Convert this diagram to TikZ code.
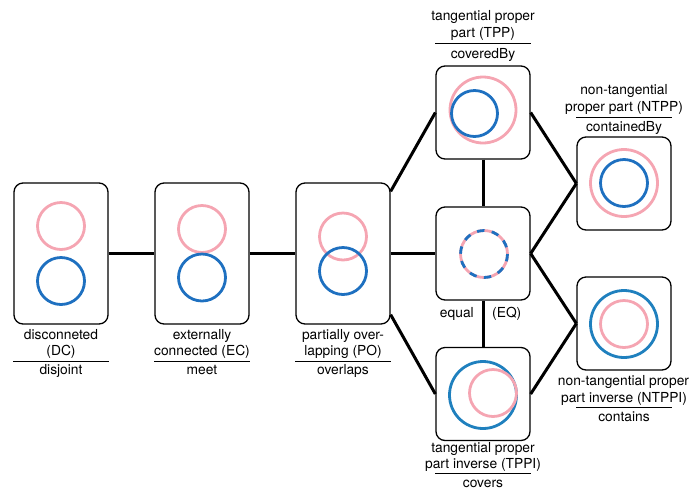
\documentclass[tikz,border=0pt]{standalone}
\usepackage{fontspec}
\setmainfont{TeX Gyre Heros}
\usetikzlibrary{calc}
\definecolor{pk}{RGB}{245,165,178}
\definecolor{bA}{RGB}{30,112,192}
\definecolor{bB}{RGB}{31,128,190}
\begin{document}
\begin{tikzpicture}[x=1pt,y=-1pt,
  box/.style={draw, line width=1.3pt, rounded corners=9pt, minimum width=94pt, inner sep=0pt},
  tall/.style={minimum height=141pt},
  sq/.style={minimum height=93pt},
  conn/.style={line width=3pt},
  pc/.style={draw=pk, line width=2.8pt},
  bc/.style={draw=bA, line width=2.8pt},
  bcc/.style={draw=bB, line width=2.8pt},
  lbl/.style={font=\fontsize{13.8}{17}\selectfont, inner sep=0pt, anchor=base},
  rl/.style={line width=0.9pt}]
\useasboundingbox (0,0) rectangle (690,491);

% boxes
\node[box,tall] (dc) at (61,253.5) {};
\node[box,tall] (ec) at (202,253.5) {};
\node[box,tall] (po) at (343,253.5) {};
\node[box,sq] (tpp) at (483,112.5) {};
\node[box,sq] (eq) at (483,253.5) {};
\node[box,sq] (tppi) at (483,394) {};
\node[box,sq] (ntpp) at (624,183.5) {};
\node[box,sq] (ntppi) at (624,323.5) {};

% connectors
\draw[conn] (dc.east) -- (ec.west);
\draw[conn] (ec.east) -- (po.west);
\draw[conn] (po.east) -- (eq.west);
\coordinate (poa) at ($(po.north east)+(0,9)$);
\coordinate (pob) at ($(po.south east)+(0,-10)$);
\draw[conn] (poa) -- (tpp.west);
\draw[conn] (pob) -- (tppi.west);
\draw[conn] (tpp.south) -- (eq.north);
\draw[conn] (eq.south) -- (tppi.north);
\draw[conn] (tpp.east) -- (ntpp.west);
\draw[conn] (eq.east) -- (ntpp.west);
\draw[conn] (eq.east) -- (ntppi.west);
\draw[conn] (tppi.east) -- (ntppi.west);

% circles
\draw[pc] (61,226) circle (23.5);
\draw[bc] (61,281) circle (23.5);
\draw[pc] (202,229) circle (23.5);
\draw[bc] (202,277.5) circle (23.5);
\draw[pc] (343,236.5) circle (23.5);
\draw[bc] (343,271) circle (23.5);
\draw[pc] (483,110) circle (33);
\draw[bc] (474.5,113.5) circle (23);
\draw[pc] (484,254) circle (23.5);
\draw[draw=bA, line width=2.8pt, dash pattern=on 7.4pt off 7.4pt] (484,254) circle (23.5);
\draw[pc] (624,183) circle (33.5);
\draw[bc] (624,183) circle (23.5);
\draw[bcc] (624,324) circle (33.5);
\draw[pc] (624,324) circle (23.5);
\draw[bcc] (483,395) circle (33.5);
\draw[pc] (493,393) circle (23.5);

% labels DC
\node[lbl] (dc1) at (61,339) {disconneted};
\node[lbl] (dc2) at (61,355) {(DC)};
\draw[rl] (dc.west |- 0,361) -- (dc.east |- 0,361);
\node[lbl] (dc3) at (61,374) {disjoint};
% EC
\node[lbl] (ec1) at (202,339) {externally};
\node[lbl] (ec2) at (202,355) {connected (EC)};
\draw[rl] (ec.west |- 0,361) -- (ec.east |- 0,361);
\node[lbl] (ec3) at (202,374) {meet};
% PO
\node[lbl] (po1) at (343,339) {partially over-};
\node[lbl] (po2) at (343,355) {lapping (PO)};
\draw[rl] (po.west |- 0,361) -- (po.east |- 0,361);
\node[lbl] (po3) at (343,374) {overlaps};
% TPP
\node[lbl] (tpp1) at (483,20.5) {tangential proper};
\node[lbl] (tpp2) at (483,37.5) {part (TPP)};
\draw[rl] (tpp.west |- 0,43) -- (tpp.east |- 0,43);
\node[lbl] (tpp3) at (483,58) {coveredBy};
% NTPP
\node[lbl] (ntpp1) at (624,94) {non-tangential};
\node[lbl] (ntpp2) at (624,111) {proper part (NTPP)};
\draw[rl] (ntpp.west |- 0,117) -- (ntpp.east |- 0,117);
\node[lbl] (ntpp3) at (624,131) {containedBy};
% NTPPI
\node[lbl] (ntppi1) at (623.5,385) {non-tangential proper};
\node[lbl] (ntppi2) at (624,402) {part inverse (NTPPI)};
\draw[rl] (ntppi.west |- 0,407) -- (ntppi.east |- 0,407);
\node[lbl] (ntppi3) at (624,421) {contains};
% TPPI
\node[lbl] (tppi1) at (483,452) {tangential proper};
\node[lbl] (tppi2) at (483,468.5) {part inverse (TPPI)};
\draw[rl] (tppi.west |- 0,473) -- (tppi.east |- 0,473);
\node[lbl] (tppi3) at (483,487) {covers};
% EQ
\node[lbl, anchor=base east] (eq1) at (474,317) {equal};
\node[lbl, anchor=base west] (eq2) at (492,317) {(EQ)};
\end{tikzpicture}
\end{document}
